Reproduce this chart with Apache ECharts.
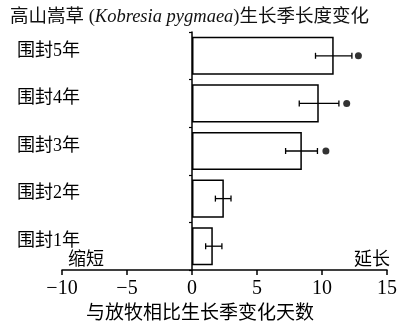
<!DOCTYPE html>
<html><head><meta charset="utf-8">
<script src="https://cdn.jsdelivr.net/npm/echarts@6/dist/echarts.min.js"></script>
<style>html,body{margin:0;padding:0;background:#fff}#c{width:404px;height:330px}</style>
</head><body><div id="c"></div>
<script>
var categories = ['围封1年', '围封2年', '围封3年', '围封4年', '围封5年'];
var means = [1.6, 2.45, 8.45, 9.75, 10.9];
var errLow = [1.05, 1.8, 7.2, 8.25, 9.5];
var errHigh = [2.3, 3.0, 9.65, 11.3, 12.3];
var dots = [null, null, 10.3, 11.9, 12.8];
var xTicks = [-10, -5, 0, 5, 10, 15];

var FONT = "'Liberation Serif', 'Times New Roman', 'Noto Sans CJK SC', serif";
var chart = echarts.init(document.getElementById('c'));
var errData = categories.map(function (c, i) { return [i, errLow[i], errHigh[i]]; });
var dotData = [];
dots.forEach(function (d, i) { if (d !== null) dotData.push([d, i]); });

chart.setOption({
  animation: false,
  backgroundColor: '#fff',
  title: {
    text: '高山嵩草 ({i|Kobresia pygmaea})生长季长度变化',
    left: 5, top: 3,
    textStyle: {
      fontFamily: FONT, fontSize: 18.5, fontWeight: 'normal', color: '#111',
      rich: { i: { fontFamily: FONT, fontSize: 18.5, fontStyle: 'italic', color: '#111' } }
    }
  },
  grid: { left: 62, right: 17, top: 32, bottom: 60, containLabel: false, outerBoundsMode: 'none' },
  xAxis: {
    type: 'value', min: -10, max: 15, interval: 5,
    axisLine: { show: true, onZero: false, lineStyle: { color: '#000', width: 1.5 } },
    axisTick: { show: true, length: 5, lineStyle: { color: '#000', width: 1.5 } },
    splitLine: { show: false },
    axisLabel: {
      color: '#000', fontFamily: FONT, fontSize: 20, margin: 9,
      formatter: function (v) { return xTicks.indexOf(v) >= 0 ? String(v).replace('-', '\u2212') : ''; }
    }
  },
  yAxis: [{
    type: 'category', data: categories,
    axisLine: { show: true, onZero: true, lineStyle: { color: '#000', width: 1.5 } },
    axisTick: { show: true, length: 3, lineStyle: { color: '#000', width: 1.2 } },
    axisLabel: { show: false }
  }, {
    type: 'category', data: categories, position: 'left',
    axisLine: { show: false, onZero: false }, axisTick: { show: false },
    axisLabel: { show: true, color: '#000', fontFamily: FONT, fontSize: 18, align: 'left', margin: 45, verticalAlign: 'bottom', lineHeight: 10 }
  }],
  graphic: [
    { type: 'text', left: 68, top: 251, style: { text: '缩短', font: '18px ' + FONT, fill: '#000' } },
    { type: 'text', left: 354, top: 251, style: { text: '延长', font: '18px ' + FONT, fill: '#000' } },
    { type: 'text', left: 86, top: 305, style: { text: '与放牧相比生长季变化天数', font: '19px ' + FONT, fill: '#000' } }
  ],
  series: [
    {
      type: 'bar', data: means, barWidth: '80%',
      itemStyle: { color: '#fff', borderColor: '#000', borderWidth: 1.5 },
      z: 2
    },
    {
      type: 'custom', z: 3,
      renderItem: function (params, api) {
        var y = api.value(0);
        var p1 = api.coord([api.value(1), y]);
        var p2 = api.coord([api.value(2), y]);
        var h = 3;
        var st = { stroke: '#000', lineWidth: 1.3 };
        return {
          type: 'group', children: [
            { type: 'line', shape: { x1: p1[0], y1: p1[1], x2: p2[0], y2: p2[1] }, style: st },
            { type: 'line', shape: { x1: p1[0], y1: p1[1] - h, x2: p1[0], y2: p1[1] + h }, style: st },
            { type: 'line', shape: { x1: p2[0], y1: p2[1] - h, x2: p2[0], y2: p2[1] + h }, style: st }
          ]
        };
      },
      encode: { x: [1, 2], y: 0 },
      data: errData
    },
    {
      type: 'scatter', data: dotData, symbolSize: 7, z: 4,
      itemStyle: { color: '#000' }
    }
  ]
});
</script></body></html>
